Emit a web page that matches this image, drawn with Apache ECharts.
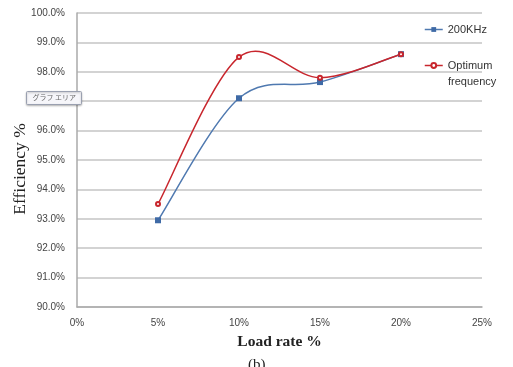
<!DOCTYPE html>
<html><head><meta charset="utf-8">
<script src="https://cdn.jsdelivr.net/npm/echarts@6/dist/echarts.min.js"></script>
<style>html,body{margin:0;padding:0;background:#fff}#c{width:513px;height:367px}</style>
</head><body><div id="c"></div>
<script>
const loadRates = [5, 10, 15, 20];
const eff200k = [92.95, 97.1, 97.65, 98.6];
const effOptimum = [93.5, 98.5, 97.8, 98.6];
const seriesNames = ['200KHz', 'Optimum frequency'];

const chart = echarts.init(document.getElementById('c'));
const sans = 'Liberation Sans, Arial, sans-serif';
const serif = 'Liberation Serif, Times New Roman, serif';
const BLUE = '#4f79b0', RED = '#c8262d';

// Excel-style smoothed curve (Catmull-Rom Bezier) drawn via the axes' coordinates
function smoothCurve(xs, ys, color) {
  return {
    type: 'custom', coordinateSystem: 'cartesian2d', silent: true, z: 1,
    data: [[xs[0], ys[0]]],
    renderItem: function (params, api) {
      if (params.dataIndex !== 0) return;
      const p = xs.map((x, i) => api.coord([x, ys[i]]));
      let d = 'M' + p[0][0] + ' ' + p[0][1];
      for (let i = 0; i < p.length - 1; i++) {
        const p0 = p[Math.max(i - 1, 0)], p1 = p[i], p2 = p[i + 1], p3 = p[Math.min(i + 2, p.length - 1)];
        const c1 = [p1[0] + (p2[0] - p0[0]) / 6, p1[1] + (p2[1] - p0[1]) / 6];
        const c2 = [p2[0] - (p3[0] - p1[0]) / 6, p2[1] - (p3[1] - p1[1]) / 6];
        d += ' C' + c1[0] + ' ' + c1[1] + ' ' + c2[0] + ' ' + c2[1] + ' ' + p2[0] + ' ' + p2[1];
      }
      return {type: 'path', shape: {pathData: d},
              style: {stroke: color, fill: 'none', lineWidth: 1.5}};
    }
  };
}

chart.setOption({
  animation: false,
  grid: {left: 77, right: 31, top: 13, bottom: 60, outerBoundsMode: 'none', containLabel: false},
  legend: {
    orient: 'vertical', left: 419, top: 19, itemGap: 25, itemWidth: 18, itemHeight: 6,
    textStyle: {fontFamily: sans, fontSize: 11, color: '#333'},
    formatter: n => n === 'Optimum frequency' ? 'Optimum' : n,
    data: [
      {name: seriesNames[0], lineStyle: {opacity: 1, width: 1.5, color: BLUE}},
      {name: seriesNames[1], lineStyle: {opacity: 1, width: 1.5, color: RED}}
    ]
  },
  xAxis: {
    type: 'value', min: 0, max: 25, interval: 5,
    name: 'Load rate %', nameLocation: 'middle', nameGap: 27, nameMoveOverlap: false,
    nameTextStyle: {fontFamily: serif, fontSize: 15.5, fontWeight: 'bold', color: '#222'},
    axisLine: {show: true, lineStyle: {color: '#aaa', width: 1.5}},
    axisTick: {show: false},
    splitLine: {show: false},
    axisLabel: {formatter: v => v + '%', fontFamily: sans, fontSize: 10, color: '#444', margin: 11}
  },
  yAxis: {
    type: 'value', min: 90, max: 100, interval: 1,
    name: 'Efficiency %', nameLocation: 'middle', nameGap: 48, nameMoveOverlap: false,
    nameTextStyle: {fontFamily: serif, fontSize: 17.5, color: '#222', padding: [0, 18, 0, 0]},
    axisLine: {show: true, lineStyle: {color: '#aaa', width: 1.5}},
    axisTick: {show: false},
    splitLine: {show: true, lineStyle: {color: '#c4c4c4', width: 1.5}},
    axisLabel: {formatter: v => v.toFixed(1) + '%', fontFamily: sans, fontSize: 10, color: '#444', margin: 12}
  },
  series: [
    smoothCurve(loadRates, eff200k, BLUE),
    smoothCurve(loadRates, effOptimum, RED),
    {name: seriesNames[0], type: 'line', z: 3,
     data: loadRates.map((x, i) => [x, eff200k[i]]),
     symbol: 'rect', symbolSize: 6,
     lineStyle: {opacity: 0},
     itemStyle: {color: '#3f6aa6'}},
    {name: seriesNames[1], type: 'line', z: 3,
     data: loadRates.map((x, i) => [x, effOptimum[i]]),
     symbol: 'emptyCircle', symbolSize: 4,
     lineStyle: {opacity: 0},
     itemStyle: {color: RED}}
  ],
  graphic: [
    {type: 'text', left: 448, top: 76, style: {text: 'frequency', fill: '#333',
     font: '11px "Liberation Sans", Arial, sans-serif'}},
    {type: 'group', left: 26, top: 91, z: 100, children: [
      {type: 'rect', z: 100, shape: {x: 0, y: 0, width: 55, height: 13, r: 1},
       style: {fill: '#f6f6fa', stroke: '#9aa0b0', lineWidth: 1,
               shadowBlur: 2, shadowColor: 'rgba(0,0,0,0.25)', shadowOffsetY: 1}},
      {type: 'text', z: 101, style: {x: 6, y: 2.5, text: 'グラフ エリア', fill: '#666',
       font: '7px "Noto Sans CJK JP"'}}
    ]},
    {type: 'text', left: 248, top: 358, style: {text: '(b)', fill: '#222',
     font: '15px "Liberation Serif", serif'}}
  ]
});
</script></body></html>
